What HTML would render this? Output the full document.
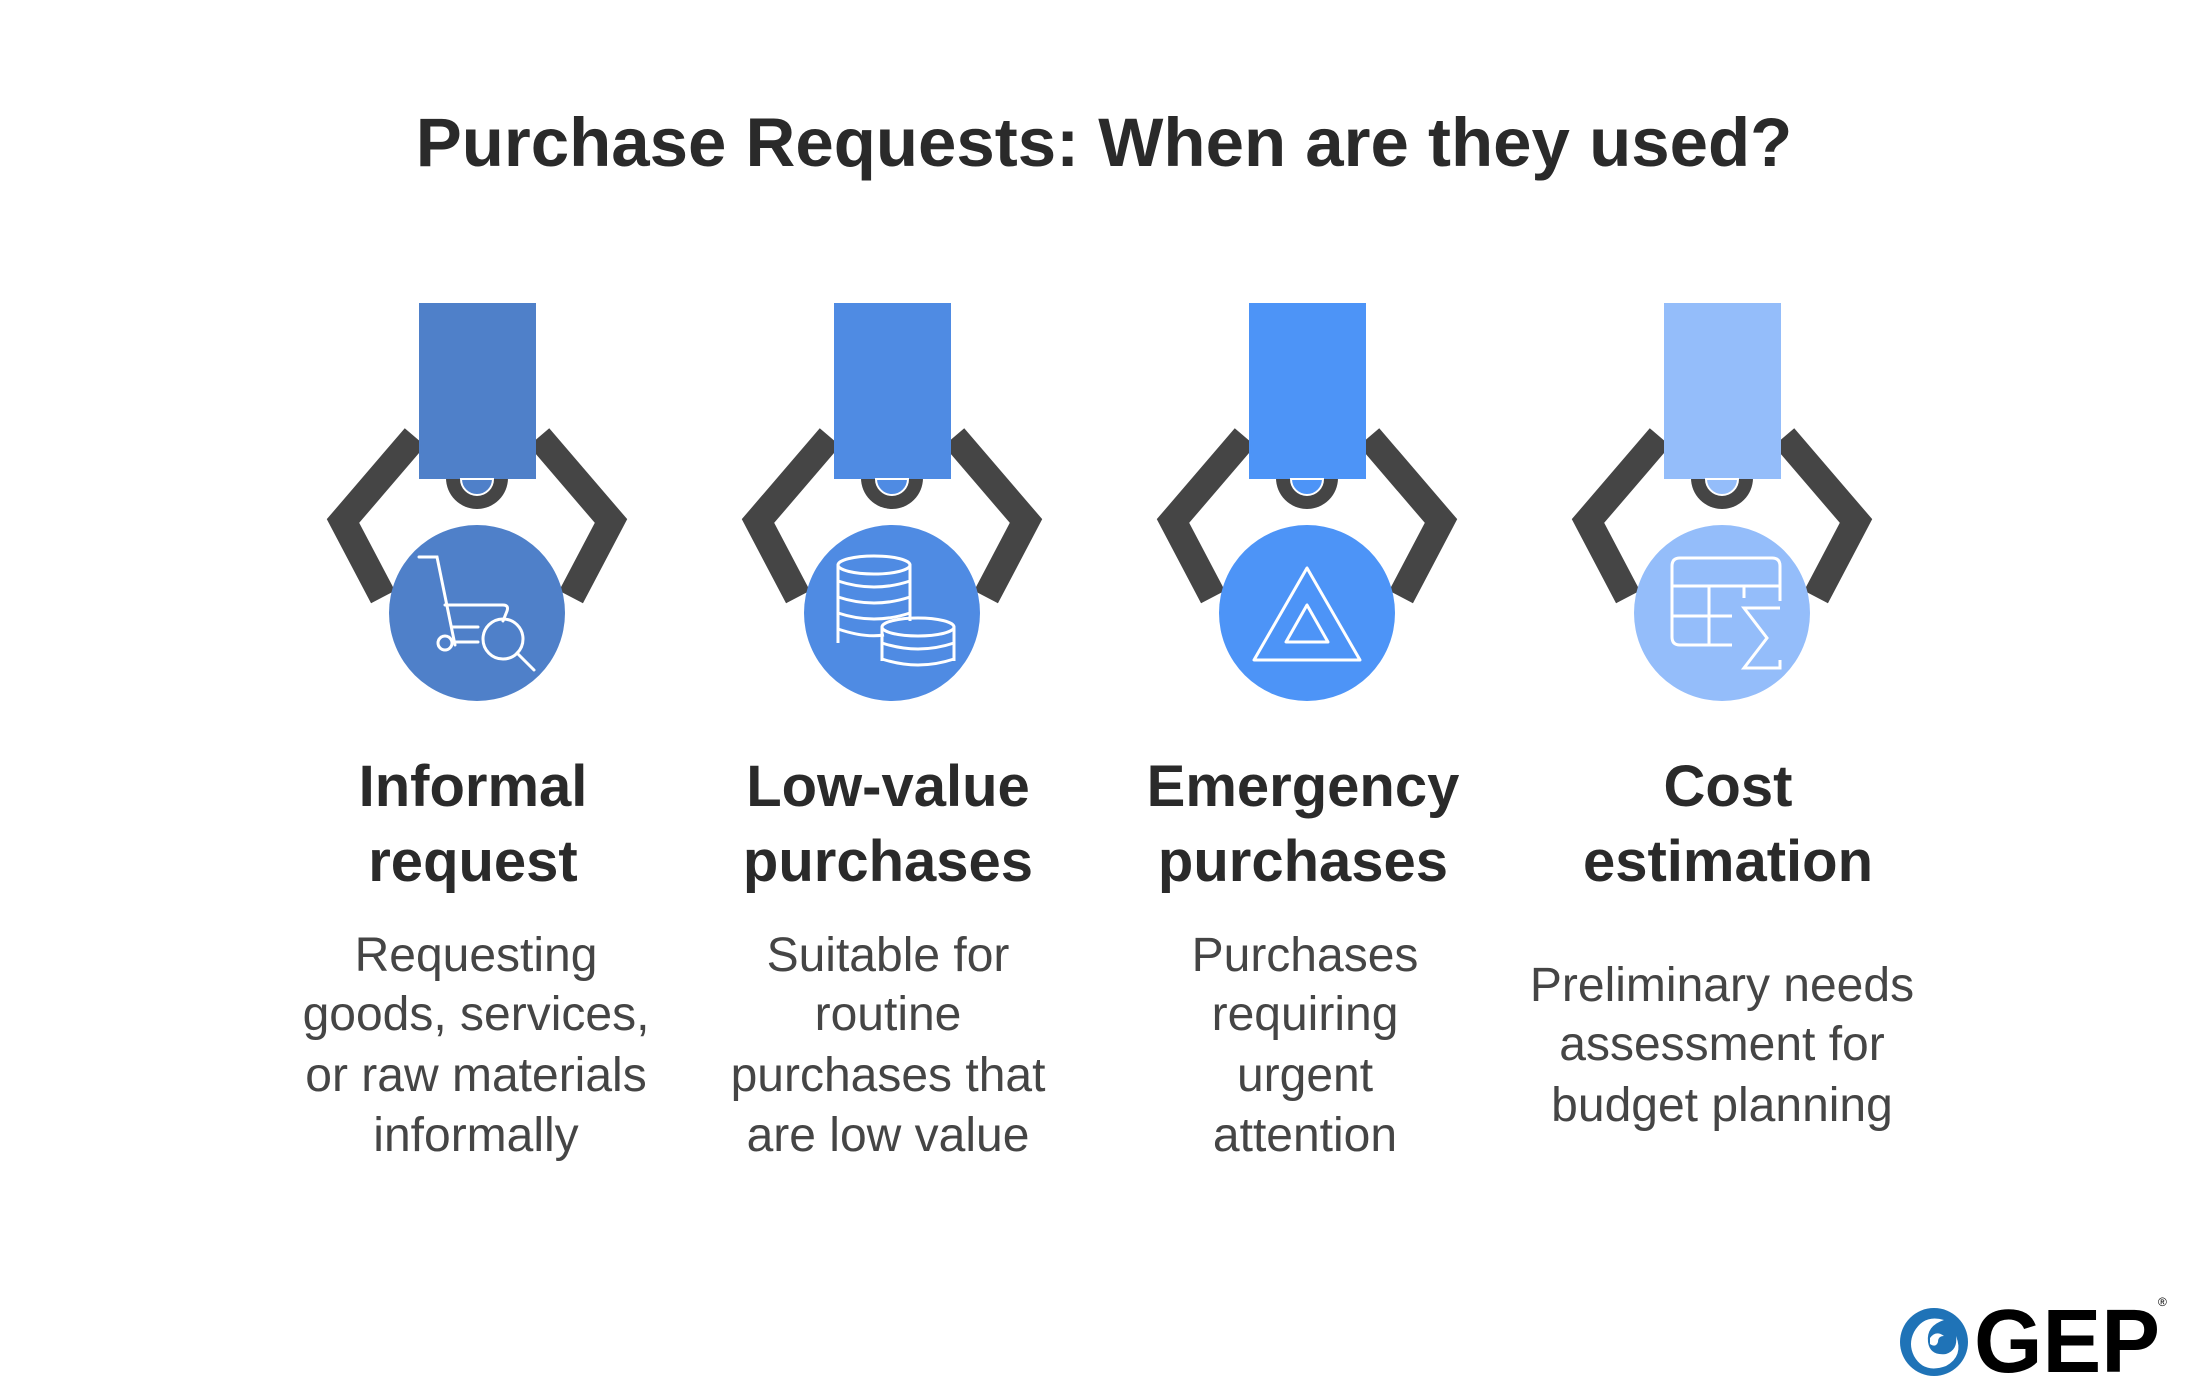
<!DOCTYPE html>
<html><head><meta charset="utf-8"><style>
html,body{margin:0;padding:0;background:#fff;}
svg{display:block;}
text{font-family:"Liberation Sans",Arial,sans-serif;}
</style></head><body>
<svg width="2200" height="1397" viewBox="0 0 2200 1397" xmlns="http://www.w3.org/2000/svg">
<defs>
<g id="claw">
  <polyline points="-62,-176 -134,-92 -94,-16" fill="none" stroke="#454545" stroke-width="27" stroke-linejoin="miter"/>
  <polyline points="62,-176 134,-92 94,-16" fill="none" stroke="#454545" stroke-width="27" stroke-linejoin="miter"/>
  <path d="M-31,-135 A31,31 0 0 0 31,-135 Z" fill="#454545"/>
</g>
</defs>
<text x="1104" y="166" text-anchor="middle" font-size="69" font-weight="bold" fill="#2a2a2a">Purchase Requests: When are they used?</text>

<g transform="translate(477,613)">
  <use href="#claw"/>
  <rect x="-58" y="-310" width="117" height="176" fill="#4f80c9"/>
  <path d="M-16,-134 A16,16 0 0 0 16,-134 Z" fill="#4f80c9" stroke="#fff" stroke-width="2"/>
  <circle r="88" fill="#4f80c9"/>
  <g fill="none" stroke="#fff" stroke-width="3" stroke-linecap="round">
    <path d="M-58,-56 H-40 L-22,32"/>
    <path d="M-32,-8 H26 Q32,-8 30,-2 L26,8"/>
    <path d="M-25,14 H1 M-25,29 H1"/>
    <circle cx="-32" cy="30" r="7"/>
    <circle cx="26" cy="26" r="20"/>
    <path d="M40,40 L57,57"/>
  </g>
</g>
<g transform="translate(892,613)">
  <use href="#claw"/>
  <rect x="-58" y="-310" width="117" height="176" fill="#4f8be3"/>
  <path d="M-16,-134 A16,16 0 0 0 16,-134 Z" fill="#4f8be3" stroke="#fff" stroke-width="2"/>
  <circle r="88" fill="#4f8be3"/>
  <g fill="none" stroke="#fff" stroke-width="3">
    <ellipse cx="-18" cy="-48" rx="36" ry="9"/>
    <path d="M-54,-48 V30 M18,-48 V8"/>
    <path d="M-54,-32 Q-18,-20 18,-32 M-54,-16 Q-18,-4 18,-16 M-54,0 Q-18,12 18,0 M-54,16 Q-28,25 -8,22"/>
    <ellipse cx="26" cy="14" rx="36" ry="9"/>
    <path d="M-10,14 V48 M62,14 V48 M-10,30 Q26,42 62,30 M-10,46 Q26,58 62,46"/>
  </g>
</g>
<g transform="translate(1307,613)">
  <use href="#claw"/>
  <rect x="-58" y="-310" width="117" height="176" fill="#4d94f7"/>
  <path d="M-16,-134 A16,16 0 0 0 16,-134 Z" fill="#4d94f7" stroke="#fff" stroke-width="2"/>
  <circle r="88" fill="#4d94f7"/>
  <g fill="none" stroke="#fff" stroke-width="3" stroke-linejoin="round">
    <path d="M0,-45 L-53,47 H53 Z"/>
    <path d="M0,-8 L-21,29 H21 Z"/>
  </g>
</g>
<g transform="translate(1722,613)">
  <use href="#claw"/>
  <rect x="-58" y="-310" width="117" height="176" fill="#94bdfa"/>
  <path d="M-16,-134 A16,16 0 0 0 16,-134 Z" fill="#94bdfa" stroke="#fff" stroke-width="2"/>
  <circle r="88" fill="#94bdfa"/>
  <g fill="none" stroke="#fff" stroke-width="3">
    <path d="M10,32 H-42 Q-50,32 -50,24 V-47 Q-50,-55 -42,-55 H50 Q58,-55 58,-47 V-12"/>
    <path d="M-50,-27 H58 M-50,3 H10 M-13,-27 V32 M22,-27 V-15"/>
    <path d="M58,-5 H22 L45,25 L22,55 H58 V47"/>
  </g>
</g>

<g font-size="58" font-weight="bold" fill="#2a2a2a" text-anchor="middle">
  <text x="473" y="806">Informal</text><text x="473" y="881">request</text>
  <text x="888" y="806">Low-value</text><text x="888" y="881">purchases</text>
  <text x="1303" y="806">Emergency</text><text x="1303" y="881">purchases</text>
  <text x="1728" y="806">Cost</text><text x="1728" y="881">estimation</text>
</g>
<g font-size="48" fill="#454545" text-anchor="middle">
  <text x="476" y="971">Requesting</text><text x="476" y="1030">goods, services,</text><text x="476" y="1091">or raw materials</text><text x="476" y="1151">informally</text>
  <text x="888" y="971">Suitable for</text><text x="888" y="1030">routine</text><text x="888" y="1091">purchases that</text><text x="888" y="1151">are low value</text>
  <text x="1305" y="971">Purchases</text><text x="1305" y="1030">requiring</text><text x="1305" y="1091">urgent</text><text x="1305" y="1151">attention</text>
  <text x="1722" y="1001">Preliminary needs</text><text x="1722" y="1060">assessment for</text><text x="1722" y="1121">budget planning</text>
</g>

<g transform="translate(1934,1342)">
  <circle r="34" fill="#1f73b7"/>
  <path d="M-20,-10 Q-10,-28 10,-22 Q-8,-16 -6,0 Q-4,14 12,12 Q24,8 22,-6 Q30,14 12,24 Q-10,32 -20,14 Q-26,2 -20,-10 Z" fill="#fff"/>
  <path d="M-4,-4 Q2,-12 10,-6 Q4,-6 4,0 Q2,6 -4,2 Z" fill="#fff"/>
</g>
<text x="1974" y="1372" font-size="90" font-weight="bold" fill="#000" textLength="186" lengthAdjust="spacingAndGlyphs">GEP</text>
<text x="2158" y="1306" font-size="12" fill="#000">®</text>
</svg>
</body></html>
